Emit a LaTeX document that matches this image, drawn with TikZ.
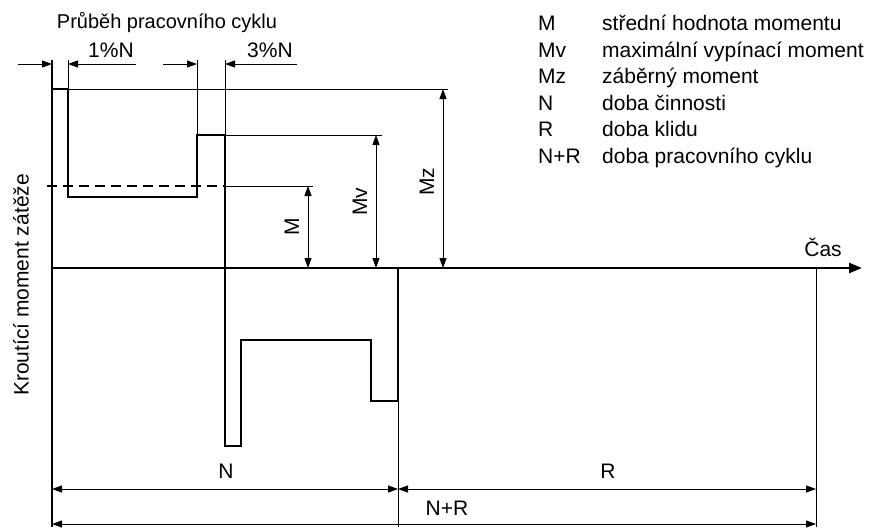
\documentclass[tikz,border=0pt]{standalone}
\usepackage{fontspec}
\setmainfont{Liberation Sans}
\usetikzlibrary{arrows.meta}

\tikzset{>={Triangle[length=10pt,width=7pt]},
	thinline/.style={line width=0.9pt},
	signal/.style={line width=2.6pt,line join=miter},
	dimline/.style={<->,line width=0.9pt},
	txt/.style={inner sep=0pt,font=\fontsize{21}{25}\selectfont}}

\begin{document}
\begin{tikzpicture}[x=1pt,y=-1pt]
		\newcommand{\zeroY}{268}
		\newcommand{\levelMz}{89}
		\newcommand{\levelMv}{135}
		\newcommand{\levelM}{186}
		\newcommand{\dimTop}{64}
		\newcommand{\dimN}{489}
		\newcommand{\dimNR}{524}
		
		\useasboundingbox (0,0) rectangle (869,527);		% page
		
		% axes
		\coordinate (axisTop) at (52,60);
		\coordinate (axisBottom) at (52,527);
		\coordinate (origin) at (52,\zeroY);
		\coordinate (timeEnd) at (862,\zeroY);
		\draw[line width=2pt] (axisTop) -- (axisBottom);
		\draw[signal,-{Triangle[length=13pt,width=10pt]}] (origin) -- (timeEnd);
		\node[txt] (cas) at (823,247) {Čas};
		\node[txt,rotate=90] (osaY) at (21,285) {Kroutící moment zátěže};
		
		% load curve
		\draw[signal] (origin) -- (52,\levelMz) -- (68,\levelMz) -- (68,197) -- (197,197) -- (197,\levelMv) -- (225,\levelMv)
			-- (225,446) -- (241,446) -- (241,340) -- (371,340) -- (371,401) -- (398,401) -- (398,\zeroY);
		\draw[signal,dash pattern=on 10pt off 6pt] (47,\levelM) -- (225,\levelM);	% mean value
		
		% helper lines
		\draw[thinline] (68,\levelMz) -- (448,\levelMz);
		\draw[thinline] (225,\levelMv) -- (382,\levelMv);
		\draw[thinline] (225,\levelM) -- (313,\levelM);
		\draw[thinline] (68,60) -- (68,\levelMz);
		\draw[thinline] (197,60) -- (197,\levelMv);
		\draw[thinline] (225,60) -- (225,\levelMv);
		\draw[thinline] (398,\zeroY) -- (398,527);
		\draw[thinline] (816,\zeroY) -- (816,527);
		
		% top dimensions
		\node[txt,font=\fontsize{20}{24}\selectfont] (cyklus) at (167,23) {Průběh pracovního cyklu};
		\node[txt] (jedna) at (111,50) {1\%N};
		\node[txt] (tri) at (270,50) {3\%N};
		\draw[thinline,->] (18,\dimTop) -- (52,\dimTop);
		\draw[thinline,->] (136,\dimTop) -- (68,\dimTop);
		\draw[thinline,->] (163,\dimTop) -- (197,\dimTop);
		\draw[thinline,->] (297,\dimTop) -- (225,\dimTop);
		
		% moment dimensions
		\draw[dimline] (308,\levelM) -- (308,\zeroY);
		\draw[dimline] (376,\levelMv) -- (376,\zeroY);
		\draw[dimline] (443,\levelMz) -- (443,\zeroY);
		\node[txt,rotate=90] (labM) at (292,227) {M};
		\node[txt,rotate=90] (labMv) at (360,202) {Mv};
		\node[txt,rotate=90] (labMz) at (427,182) {Mz};
		
		% time dimensions
		\draw[dimline] (52,\dimN) -- (398,\dimN);
		\draw[dimline] (398,\dimN) -- (816,\dimN);
		\draw[dimline] (52,\dimNR) -- (816,\dimNR);
		\node[txt] (labN) at (226,471) {N};
		\node[txt] (labR) at (608,471) {R};
		\node[txt] (labNR) at (447,508) {N+R};
		
		% legend
		\foreach \zn/\popis [count=\i from 0] in {M/střední hodnota momentu, Mv/maximální vypínací moment,
			Mz/záběrný moment, N/doba činnosti, R/doba klidu, N+R/doba pracovního cyklu}{
			\node[txt,anchor=base west] (zn\i) at (538,31+26.4*\i) {\zn};
			\node[txt,anchor=base west] (popis\i) at (602,31+26.4*\i) {\popis};
		}
\end{tikzpicture}
\end{document}
